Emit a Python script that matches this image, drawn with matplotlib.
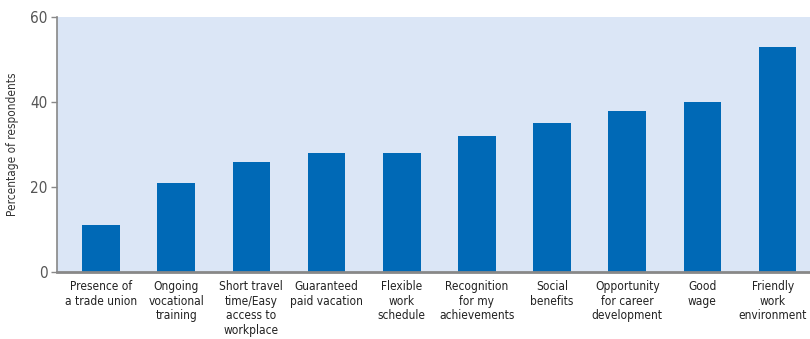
import matplotlib
matplotlib.use("Agg")
import matplotlib.pyplot as plt
from matplotlib import font_manager
from matplotlib.transforms import ScaledTranslation

categories = [
    "Presence of\na trade union",
    "Ongoing\nvocational\ntraining",
    "Short travel\ntime/Easy\naccess to\nworkplace",
    "Guaranteed\npaid vacation",
    "Flexible\nwork\nschedule",
    "Recognition\nfor my\nachievements",
    "Social\nbenefits",
    "Opportunity\nfor career\ndevelopment",
    "Good\nwage",
    "Friendly\nwork\nenvironment",
]
values = [11, 21, 26, 28, 28, 32, 35, 38, 40, 53]
yticks = [0, 20, 40, 60]

# Prefer an upright condensed face for the labels if one is installed
cond = None
for f in font_manager.fontManager.ttflist:
    if f.style != "normal":
        continue
    if f.weight not in (400, "normal", "regular"):
        continue
    if "DejaVu Sans" in f.name and ("Condensed" in f.name or f.stretch == "condensed"):
        if "Oblique" in f.fname or "Bold" in f.fname:
            continue
        cond = f.fname
        break
label_font = font_manager.FontProperties(fname=cond) if cond else font_manager.FontProperties(family="DejaVu Sans")

fig = plt.figure(figsize=(8.10, 3.39), dpi=100)
ax = fig.add_axes([57 / 810, 1 - 272 / 339, 1 - 57 / 810, (272 - 17) / 339])
ax.set_facecolor("#dbe6f6")

x = list(range(len(values)))
ax.bar(x, values, width=0.5, color="#0069b6", zorder=2)

ax.set_xlim(-0.585, len(values) - 0.57)
ax.set_ylim(0, 60)
ax.set_yticks(yticks)
ax.set_xticks(x)
ax.set_xticklabels(categories, fontproperties=label_font, fontsize=8.6,
                   color="#222222", linespacing=1.15, va="top")
for lbl in ax.get_yticklabels():
    lbl.set_fontproperties(label_font)
    lbl.set_fontsize(11)
    lbl.set_color("#555555")

ax.tick_params(axis="x", length=0, pad=6)
ax.tick_params(axis="y", length=4, width=1, color="#888888", pad=3)

# keep the right-most label inside the figure edge
last = ax.get_xticklabels()[-1]
last.set_transform(last.get_transform() + ScaledTranslation(-5 / 100, 0, fig.dpi_scale_trans))

for side in ("top", "right"):
    ax.spines[side].set_visible(False)
ax.spines["left"].set_color("#888888")
ax.spines["left"].set_linewidth(1.2)
ax.spines["bottom"].set_color("#888888")
ax.spines["bottom"].set_linewidth(2)

ax.set_ylabel("Percentage of respondents", fontproperties=label_font,
              fontsize=8.5, color="#333333", labelpad=8)

fig.savefig("out.png", dpi=100)
